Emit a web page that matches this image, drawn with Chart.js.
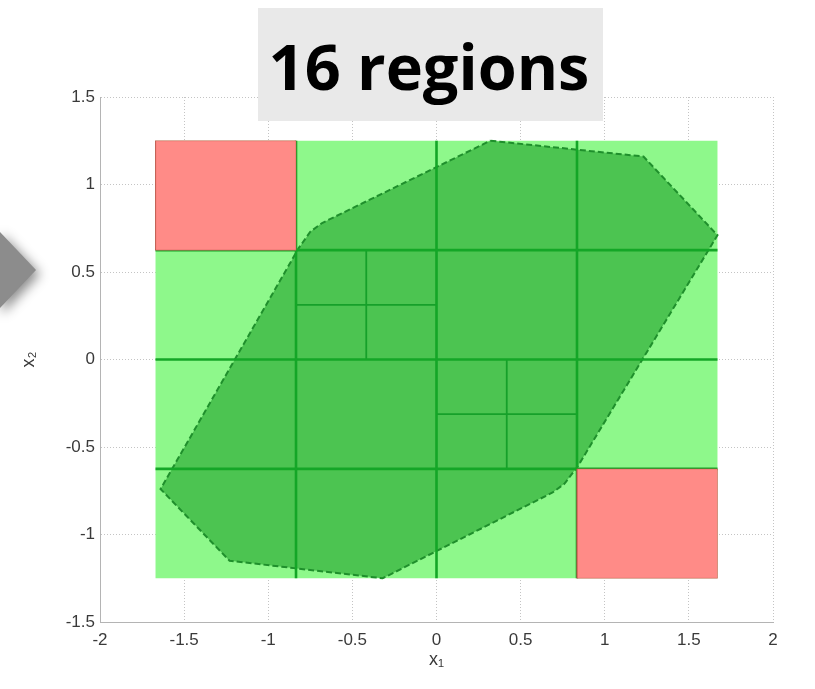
<!DOCTYPE html>
<html>
<head>
<meta charset="utf-8">
<title>16 regions</title>
<script src="https://cdn.jsdelivr.net/npm/chart.js@4.4.1/dist/chart.umd.min.js"></script>
<style>
  html, body { margin: 0; padding: 0; background: #ffffff; }
  #wrap { width: 815px; height: 689px; }
</style>
</head>
<body>
<div id="wrap"><canvas id="chart" width="815" height="689"></canvas></div>
<script>
// Axis ranges and tick labels
const xTicks = [-2, -1.5, -1, -0.5, 0, 0.5, 1, 1.5, 2];
const yTicks = [-1.5, -1, -0.5, 0, 0.5, 1, 1.5];

// Outer box of the partitioned state space
const boxX = [-1.67, 1.67];
const boxY = [-1.25, 1.25];

// First-level splitting lines (4 x 4 grid)
const splitX = [-0.835, 0, 0.835];
const splitY = [-0.625, 0, 0.625];

// Cells refined once more: [xmin, xmax, ymin, ymax]
const refinedCells = [
  [-0.835, 0, 0, 0.625],
  [0, 0.835, -0.625, 0]
];

// Infeasible cells: [xmin, xmax, ymin, ymax]
const infeasibleCells = [
  [-1.67, -0.835, 0.625, 1.25],
  [0.835, 1.67, -1.25, -0.625]
];

// Feasible set polygon (vertices in order)
const polyX = [0.32, 1.23, 1.67, 0.84, 0.76, 0.69, -0.32, -1.23, -1.64, -0.82, -0.75, -0.68];
const polyY = [1.25, 1.16, 0.71, -0.61, -0.71, -0.76, -1.25, -1.15, -0.74, 0.635, 0.73, 0.78];

const LIGHT_GREEN = '#8ef88b';
const POLY_GREEN = '#4cc451';
const LINE_GREEN = '#14a627';
const RED = '#ff8b87';

function rectPoints(x0, x1, y0, y1) {
  return [{x: x0, y: y0}, {x: x1, y: y0}, {x: x1, y: y1}, {x: x0, y: y1}, {x: x0, y: y0}];
}

const datasets = [];

// Background box
datasets.push({
  data: rectPoints(boxX[0], boxX[1], boxY[0], boxY[1]),
  showLine: true, fill: 'shape', backgroundColor: LIGHT_GREEN,
  borderColor: 'rgba(0,0,0,0)', borderWidth: 0, pointRadius: 0, order: 50
});

// Feasible polygon with dashed outline
const polyPts = polyX.map((x, i) => ({x: x, y: polyY[i]}));
polyPts.push({x: polyX[0], y: polyY[0]});
datasets.push({
  data: polyPts,
  showLine: true, fill: 'shape', backgroundColor: POLY_GREEN,
  borderColor: '#1f8f2c', borderWidth: 2, borderDash: [6, 3],
  pointRadius: 0, order: 40
});

// Main splitting lines
splitX.forEach(x => datasets.push({
  data: [{x: x, y: boxY[0]}, {x: x, y: boxY[1]}],
  showLine: true, fill: false, borderColor: LINE_GREEN, borderWidth: 2.6,
  pointRadius: 0, order: 30
}));
splitY.forEach(y => datasets.push({
  data: [{x: boxX[0], y: y}, {x: boxX[1], y: y}],
  showLine: true, fill: false, borderColor: LINE_GREEN, borderWidth: 2.6,
  pointRadius: 0, order: 30
}));

// Second-level splits inside refined cells
refinedCells.forEach(c => {
  const mx = (c[0] + c[1]) / 2, my = (c[2] + c[3]) / 2;
  datasets.push({
    data: [{x: mx, y: c[2]}, {x: mx, y: c[3]}],
    showLine: true, fill: false, borderColor: '#16a02a', borderWidth: 1.8,
    pointRadius: 0, order: 30
  });
  datasets.push({
    data: [{x: c[0], y: my}, {x: c[1], y: my}],
    showLine: true, fill: false, borderColor: '#16a02a', borderWidth: 1.8,
    pointRadius: 0, order: 30
  });
});

// Infeasible cells on top
infeasibleCells.forEach(c => datasets.push({
  data: rectPoints(c[0], c[1], c[2], c[3]),
  showLine: true, fill: 'shape', backgroundColor: RED,
  borderColor: 'rgba(190,80,70,0.45)', borderWidth: 1, pointRadius: 0, order: 10
}));

const TICK_FONT = {family: '"Liberation Sans", Arial, sans-serif', size: 17};
const TICK_COLOR = '#3a3a3a';
const GRID = {color: '#c4c4c4', lineWidth: 1, drawTicks: false, borderDash: [1, 2]};
const fmt = v => String(v);

const decorations = {
  id: 'decorations',
  beforeDraw(chart) {
    const ctx = chart.ctx;
    ctx.save();
    ctx.fillStyle = '#ffffff';
    ctx.fillRect(0, 0, chart.width, chart.height);
    ctx.restore();
  },
  afterDraw(chart) {
    const ctx = chart.ctx;
    // pointer arrow on the left margin
    ctx.save();
    ctx.shadowColor = 'rgba(0,0,0,0.45)';
    ctx.shadowBlur = 12;
    ctx.shadowOffsetX = 4;
    ctx.shadowOffsetY = 4;
    ctx.fillStyle = '#8c8c8c';
    ctx.beginPath();
    ctx.moveTo(-2, 230);
    ctx.lineTo(36, 270);
    ctx.lineTo(-2, 310);
    ctx.closePath();
    ctx.fill();
    ctx.restore();

    // heading box
    ctx.save();
    ctx.fillStyle = '#e9e9e9';
    ctx.fillRect(258, 8, 345, 113);
    ctx.fillStyle = '#000000';
    ctx.font = 'bold 63px "Open Sans", "Noto Sans", sans-serif';
    ctx.textAlign = 'center';
    ctx.textBaseline = 'alphabetic';
    ctx.fillText('16 regions', 429, 90);
    ctx.restore();
  }
};

new Chart(document.getElementById('chart'), {
  type: 'scatter',
  data: {datasets: datasets},
  plugins: [decorations],
  options: {
    responsive: false,
    animation: false,
    devicePixelRatio: 1,
    layout: {padding: {left: 0, right: 42, top: 97, bottom: 0}},
    plugins: {legend: {display: false}, tooltip: {enabled: false}, title: {display: false}},
    elements: {line: {tension: 0}},
    scales: {
      x: {
        type: 'linear', min: -2, max: 2,
        afterBuildTicks: s => { s.ticks = xTicks.map(v => ({value: v})); },
        afterFit: s => { s.height = 67; },
        grid: GRID,
        border: {display: true, color: '#b4b4b4', dash: [1, 2]},
        ticks: {font: TICK_FONT, color: TICK_COLOR, padding: 8, maxRotation: 0, autoSkip: false, callback: fmt},
        title: {display: true, text: 'x\u2081', font: {family: '"Liberation Sans", Arial, sans-serif', size: 18}, color: TICK_COLOR, padding: {top: 0, bottom: 18}}
      },
      y: {
        type: 'linear', min: -1.5, max: 1.5,
        afterBuildTicks: s => { s.ticks = yTicks.map(v => ({value: v})); },
        afterFit: s => { s.width = 100; },
        grid: GRID,
        border: {display: true, color: '#b4b4b4', dash: [1, 2]},
        ticks: {font: TICK_FONT, color: TICK_COLOR, padding: 5, autoSkip: false, callback: fmt},
        title: {display: true, text: 'x\u2082', font: {family: '"Liberation Sans", Arial, sans-serif', size: 18}, color: TICK_COLOR, padding: {top: 18, bottom: 0}}
      }
    }
  }
});
</script>
</body>
</html>
